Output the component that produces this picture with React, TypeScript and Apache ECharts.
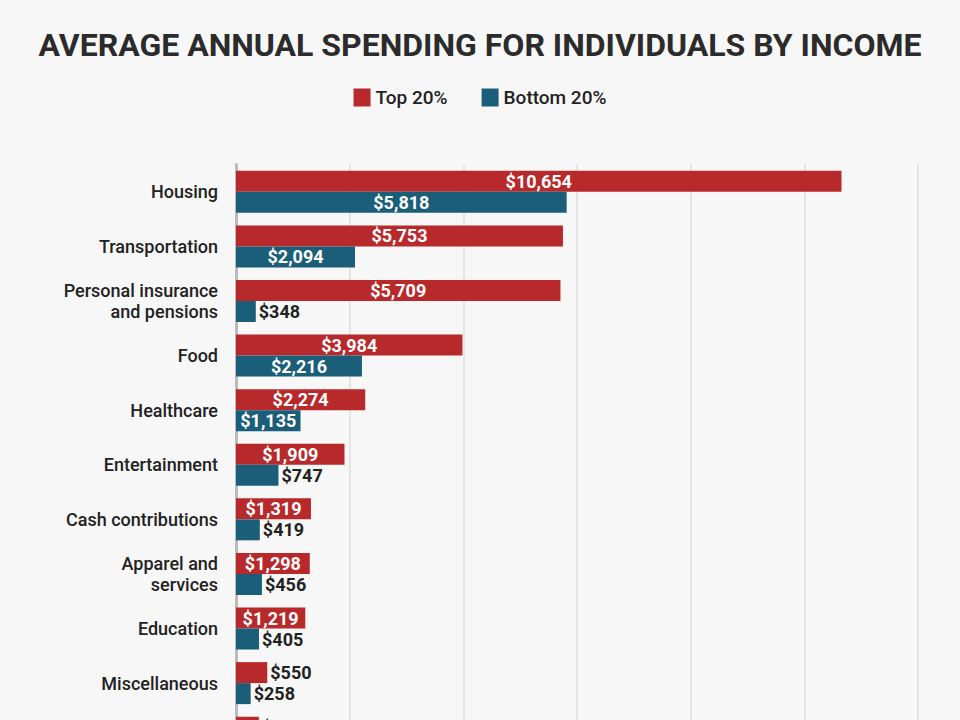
import React, { useEffect, useRef } from "react";
import * as echarts from "echarts";

const categories = [
  "Housing",
  "Transportation",
  "Personal insurance\nand pensions",
  "Food",
  "Healthcare",
  "Entertainment",
  "Cash contributions",
  "Apparel and\nservices",
  "Education",
  "Miscellaneous",
  "Personal care",
];
const top20 = [10654, 5753, 5709, 3984, 2274, 1909, 1319, 1298, 1219, 550, 402];
const bottom20 = [5818, 2094, 348, 2216, 1135, 747, 419, 456, 405, 258, 160];

const RED = "#b8292b";
const BLUE = "#1a5e7a";

const fmt = (v: number) => "$" + v.toLocaleString("en-US");

function items(values: number[]) {
  return values.map((v) =>
    v >= 1000
      ? {
          value: v,
          label: { position: "inside", color: "#ffffff" },
        }
      : {
          value: v,
          label: { position: "right", color: "#222222", distance: 3 },
        }
  );
}

export default function App() {
  const ref = useRef<HTMLDivElement>(null);
  useEffect(() => {
    document.body.style.margin = "0";
    const chart = echarts.init(ref.current!, undefined, { renderer: "svg" });
    const labelBase = {
      show: true,
      fontFamily: "Roboto",
      fontWeight: "bold",
      fontSize: 18,
      formatter: (p: any) => fmt(p.value),
    };
    chart.setOption({
      animation: false,
      backgroundColor: "#f7f7f7",
      title: {
        text: "AVERAGE ANNUAL SPENDING FOR INDIVIDUALS BY INCOME",
        left: "center",
        top: 24,
        textStyle: {
          fontFamily: "Roboto",
          fontWeight: "bold",
          fontSize: 32,
          color: "#2b2b2b",
        },
      },
      legend: {
        top: 83,
        left: "center",
        itemWidth: 17,
        itemHeight: 18,
        itemGap: 34,
        icon: "rect",
        textStyle: {
          fontFamily: "Roboto",
          fontSize: 19,
          fontWeight: 500,
          color: "#222222",
        },
        data: ["Top 20%", "Bottom 20%"],
      },
      grid: {
        left: 236,
        right: 42,
        top: 164.5,
        bottom: 0,
      },
      xAxis: {
        type: "value",
        min: 0,
        max: 12000,
        interval: 2000,
        axisLabel: { show: false },
        axisLine: { show: false },
        axisTick: { show: false },
        splitLine: { lineStyle: { color: "#e4e4e4", width: 2 } },
      },
      yAxis: {
        type: "category",
        inverse: true,
        data: categories,
        axisTick: { show: false },
        axisLine: { lineStyle: { color: "#bbbbbb", width: 3 } },
        axisLabel: {
          fontFamily: "Roboto",
          fontSize: 18,
          fontWeight: 500,
          color: "#222222",
          margin: 18,
          lineHeight: 21,
          align: "right",
        },
      },
      series: [
        {
          name: "Top 20%",
          type: "bar",
          data: items(top20),
          barWidth: 21,
          barGap: "0%",
          itemStyle: { color: RED },
          label: labelBase,
        },
        {
          name: "Bottom 20%",
          type: "bar",
          data: items(bottom20),
          barWidth: 21,
          barGap: "0%",
          itemStyle: { color: BLUE },
          label: labelBase,
        },
      ],
    });
    return () => chart.dispose();
  }, []);
  return (
    <div style={{ width: 960, height: 720, overflow: "hidden" }}>
      <div ref={ref} style={{ width: 960, height: 765.1 }} />
    </div>
  );
}
